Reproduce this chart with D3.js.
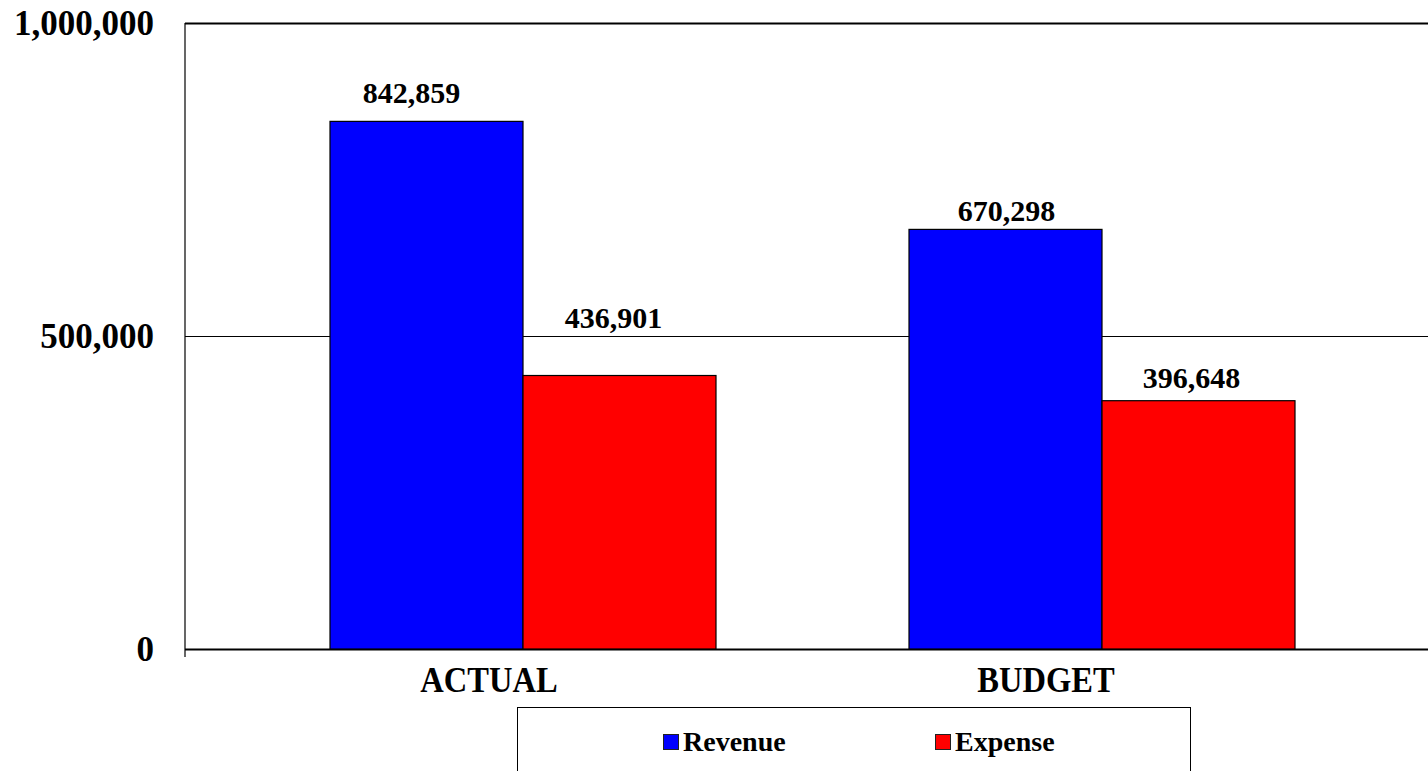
<!DOCTYPE html>
<html>
<head>
<meta charset="utf-8">
<script src="https://cdn.jsdelivr.net/npm/d3@7"></script>
<style>
  body { margin: 0; background: #fff; }
  svg { display: block; }
  text { font-family: "Liberation Serif", "Times New Roman", serif; font-weight: bold; fill: #000; }
</style>
</head>
<body>
<div id="vis"></div>
<script>
// chart data
const categories = ["ACTUAL", "BUDGET"];
const series = ["Revenue", "Expense"];
const revenue = [842859, 670298];
const expense = [436901, 396648];
const yTicks = [0, 500000, 1000000];
const colors = ["#0000ff", "#ff0000"];

const FRAME_WIDTH = 1428;
const FRAME_HEIGHT = 771;
const PLOT = {left: 185, top: 23, right: 1428, bottom: 649};

// hand placed label tweaks seen in the picture [dx, dy]
const LABEL_NUDGE = [[-15, -18], [-6, -47], [1, -8], [-7, -13]];
const CAT_NUDGE = [-34, -56];

const rows = [];
categories.forEach((c, i) => {
  rows.push({cat: c, s: series[0], v: revenue[i]});
  rows.push({cat: c, s: series[1], v: expense[i]});
});

const svg = d3.select("#vis")
  .append("svg")
    .attr("width", FRAME_WIDTH)
    .attr("height", FRAME_HEIGHT);

const Y_SCALE = d3.scaleLinear()
  .domain([0, 1000000])
  .range([PLOT.bottom, PLOT.top]);

// the category bands run a bit past the right edge of the frame
const X0 = d3.scaleBand()
  .domain(categories)
  .range([233.5, 1391.5]);

const X1 = d3.scaleBand()
  .domain(series)
  .range([X0.bandwidth() / 6, X0.bandwidth() * 5 / 6]);

const COLOR = d3.scaleOrdinal().domain(series).range(colors);

// y axis with gridlines
const yAxis = d3.axisLeft(Y_SCALE)
  .tickValues(yTicks)
  .tickFormat(d3.format(","))
  .tickSize(-(PLOT.right - PLOT.left))
  .tickPadding(31);

const gy = svg.append("g")
  .attr("transform", `translate(${PLOT.left},0)`)
  .call(yAxis);
gy.select(".domain").remove();
gy.selectAll(".tick line")
  .attr("stroke", "#000")
  .attr("stroke-width", (d) => d === 500000 ? 1 : 2);
gy.selectAll(".tick text")
  .attr("font-size", 35)
  .attr("dy", "0.32em");

// left axis line, with the little tick below zero
svg.append("line")
  .attr("x1", PLOT.left).attr("x2", PLOT.left)
  .attr("y1", PLOT.top).attr("y2", PLOT.bottom + 8)
  .attr("stroke", "#000")
  .attr("stroke-width", 1.2);

// bars
svg.selectAll(".bar")
  .data(rows)
  .enter()
  .append("rect")
    .attr("class", "bar")
    .attr("x", (d) => X0(d.cat) + X1(d.s))
    .attr("y", (d) => Y_SCALE(d.v))
    .attr("width", X1.bandwidth())
    .attr("height", (d) => Y_SCALE(0) - Y_SCALE(d.v))
    .attr("fill", (d) => COLOR(d.s))
    .attr("stroke", "#000")
    .attr("stroke-width", 1.2);

// value labels
svg.selectAll(".val")
  .data(rows)
  .enter()
  .append("text")
    .attr("class", "val")
    .attr("x", (d, i) => X0(d.cat) + X1(d.s) + X1.bandwidth() / 2 + LABEL_NUDGE[i][0])
    .attr("y", (d, i) => Y_SCALE(d.v) + LABEL_NUDGE[i][1])
    .attr("text-anchor", "middle")
    .attr("font-size", 30)
    .text((d) => d3.format(",")(d.v));

// category labels, slightly condensed like the original
svg.selectAll(".cat")
  .data(categories)
  .enter()
  .append("text")
    .attr("class", "cat")
    .attr("transform", (d, i) =>
      `translate(${X0(d) + X0.bandwidth() / 2 + CAT_NUDGE[i]},692) scale(0.93,1)`)
    .attr("text-anchor", "middle")
    .attr("font-size", 35)
    .text((d) => d);

// legend
const legend = svg.append("g");
legend.append("rect")
  .attr("x", 517.5).attr("y", 707.5)
  .attr("width", 673).attr("height", 80)
  .attr("fill", "#fff")
  .attr("stroke", "#000")
  .attr("stroke-width", 1);

const LEGEND_X = d3.scaleOrdinal().domain(series).range([663, 935]);

const items = legend.selectAll(".item")
  .data(series)
  .enter()
  .append("g")
    .attr("transform", (d) => `translate(${LEGEND_X(d)},734)`);
items.append("rect")
  .attr("x", 0.5).attr("y", 0.5)
  .attr("width", 15).attr("height", 15)
  .attr("fill", (d) => COLOR(d))
  .attr("stroke", "#222")
  .attr("stroke-width", 1);
items.append("text")
  .attr("x", 20)
  .attr("y", 17)
  .attr("font-size", 28)
  .text((d) => d);
</script>
</body>
</html>
